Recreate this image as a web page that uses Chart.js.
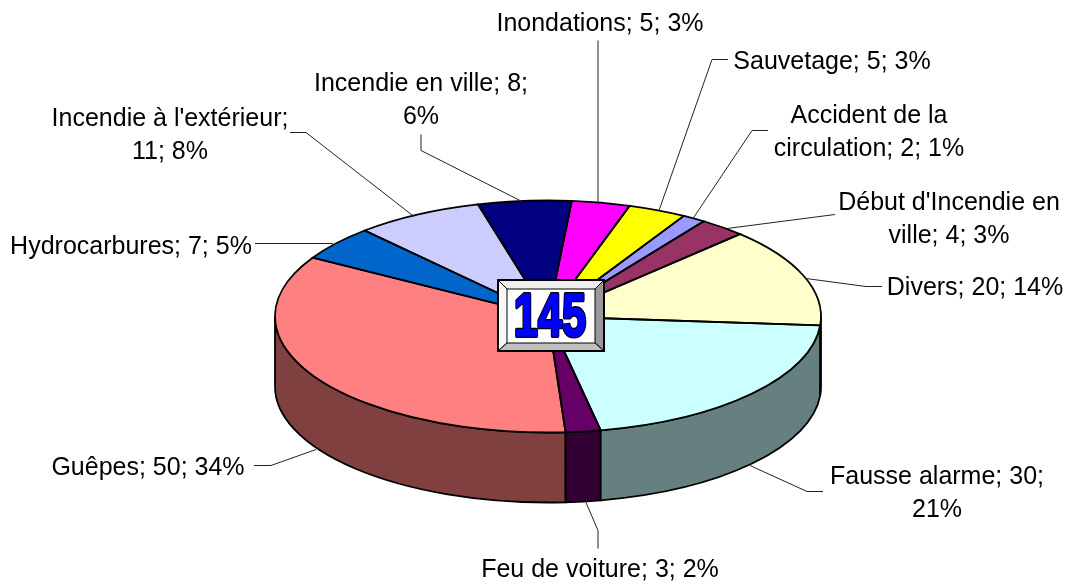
<!DOCTYPE html>
<html>
<head>
<meta charset="utf-8">
<title>145</title>
<script src="https://cdn.jsdelivr.net/npm/chart.js@4"></script>
<style>
  html, body { margin: 0; padding: 0; background: #fff; }
  canvas { display: block; }
</style>
</head>
<body>
<canvas id="myChart" width="1072" height="585"></canvas>
<script>
const categories = ['Inondations', 'Sauvetage', 'Accident de la circulation', "Début d'Incendie en ville", 'Divers', 'Fausse alarme', 'Feu de voiture', 'Guêpes', 'Hydrocarbures', "Incendie à l'extérieur", 'Incendie en ville'];
const values = [5, 5, 2, 4, 20, 30, 3, 50, 7, 11, 8];
const total = '145';
const topColors = ['#FF00FF', '#FFFF00', '#9999FF', '#993366', '#FFFFCC', '#CCFFFF', '#660066', '#FF8080', '#0066CC', '#CCCCFF', '#000080'];
const sideColors = ['#800080', '#808000', '#4D4D80', '#4D1A33', '#808066', '#668080', '#330033', '#804040', '#003366', '#666680', '#000040'];

// label text as broken over lines in the picture
const labelLines = [
    ['Inondations; 5; 3%'],
    ['Sauvetage; 5; 3%'],
    ['Accident de la', 'circulation; 2; 1%'],
    ["Début d'Incendie en", 'ville; 4; 3%'],
    ['Divers; 20; 14%'],
    ['Fausse alarme; 30;', '21%'],
    ['Feu de voiture; 3; 2%'],
    ['Guêpes; 50; 34%'],
    ['Hydrocarbures; 7; 5%'],
    ["Incendie à l'extérieur;", '11; 8%'],
    ['Incendie en ville; 8;', '6%']
];
// centre x and first baseline of each label
const labelAnchors = [[600, 31], [832, 69], [869, 123], [949, 210], [975, 295], [937, 484], [600, 577], [148, 475], [131, 254], [170, 126], [421, 91]];
const leaders = [
    [[598, 40], [598, 203]],
    [[728, 59], [712, 59], [659, 210]],
    [[768, 130], [752, 130], [693, 218]],
    [[835, 214], [727, 228]],
    [[882, 286], [866, 286], [806, 278]],
    [[823, 491], [807, 491], [750, 465]],
    [[598, 548], [598, 530], [586, 502]],
    [[254, 465], [271, 465], [316, 449]],
    [[255, 243], [333, 243]],
    [[290, 132], [306, 132], [414, 216]],
    [[421, 134], [421, 150], [522, 201]]
];

const pieCy = 316.5;
const pieRy = 116;
const depth = 70;

function sideRange(arc) {
    // part of the slice that faces the viewer (canvas angles 0..PI)
    const twoPi = Math.PI * 2;
    let a1 = arc.startAngle, a2 = arc.endAngle;
    while (a1 < 0) { a1 += twoPi; a2 += twoPi; }
    while (a1 >= twoPi) { a1 -= twoPi; a2 -= twoPi; }
    if (a1 <= Math.PI && a2 >= 0) {
        return [a1, Math.min(a2, Math.PI)];
    }
    if (a2 > twoPi) {
        return [twoPi, Math.min(a2, twoPi + Math.PI)];
    }
    return null;
}

const pie3d = {
    id: 'pie3d',
    beforeDatasetsDraw(chart) {
        const ctx = chart.ctx;
        const arcs = chart.getDatasetMeta(0).data;
        // reversed so the thin Divers sliver on the right edge stays on top
        for (let i = arcs.length - 1; i >= 0; i--) {
            const arc = arcs[i];
            const range = sideRange(arc);
            if (!range) continue;
            const rx = arc.outerRadius;
            ctx.beginPath();
            ctx.ellipse(arc.x, pieCy, rx, pieRy, 0, range[0], range[1]);
            ctx.ellipse(arc.x, pieCy + depth, rx, pieRy, 0, range[1], range[0], true);
            ctx.closePath();
            ctx.fillStyle = sideColors[i];
            ctx.fill();
            ctx.strokeStyle = '#000';
            ctx.lineWidth = 1.8;
            ctx.stroke();
        }
        const first = arcs[0];
        ctx.save();
        ctx.translate(first.x, pieCy);
        ctx.scale(1, pieRy / first.outerRadius);
        ctx.translate(-first.x, -first.y);
    },
    afterDatasetsDraw(chart) {
        const ctx = chart.ctx;
        ctx.restore();
        chart.getDatasetMeta(0).data.forEach(function (arc) {
            ctx.beginPath();
            ctx.moveTo(arc.x, pieCy);
            ctx.ellipse(arc.x, pieCy, arc.outerRadius, pieRy, 0, arc.startAngle, arc.endAngle);
            ctx.closePath();
            ctx.strokeStyle = '#000';
            ctx.lineWidth = 1.8;
            ctx.stroke();
        });
        drawLeaders(ctx);
        drawLabels(ctx);
        drawTotalBox(ctx);
    }
};

function drawLeaders(ctx) {
    ctx.strokeStyle = '#222';
    ctx.lineWidth = 1;
    leaders.forEach(function (pts) {
        ctx.beginPath();
        pts.forEach(function (p, i) {
            if (i === 0) ctx.moveTo(p[0], p[1] + 0.5);
            else ctx.lineTo(p[0], p[1] + 0.5);
        });
        ctx.stroke();
    });
}

function drawLabels(ctx) {
    ctx.font = '25px "Liberation Sans", Arial, sans-serif';
    ctx.fillStyle = '#000';
    ctx.textAlign = 'center';
    ctx.textBaseline = 'alphabetic';
    labelLines.forEach(function (lines, i) {
        lines.forEach(function (line, j) {
            ctx.fillText(line, labelAnchors[i][0], labelAnchors[i][1] + j * 33);
        });
    });
}

function drawTotalBox(ctx) {
    const x0 = 498, y0 = 280, x1 = 604, y1 = 351;
    const ix0 = 507, iy0 = 289, ix1 = 595, iy1 = 343;
    function face(color, pts) {
        ctx.beginPath();
        pts.forEach(function (p, i) {
            if (i === 0) ctx.moveTo(p[0], p[1]);
            else ctx.lineTo(p[0], p[1]);
        });
        ctx.closePath();
        ctx.fillStyle = color;
        ctx.fill();
        ctx.strokeStyle = '#000';
        ctx.lineWidth = 1;
        ctx.stroke();
    }
    face('#ffffff', [[x0, y0], [x1, y0], [x1, y1], [x0, y1]]);
    face('#eeeeee', [[x0, y0], [x1, y0], [ix1, iy0], [ix0, iy0]]);
    face('#f8f8f8', [[x0, y0], [ix0, iy0], [ix0, iy1], [x0, y1]]);
    face('#999999', [[x1, y0], [x1, y1], [ix1, iy1], [ix1, iy0]]);
    face('#c0c0c0', [[x0, y1], [ix0, iy1], [ix1, iy1], [x1, y1]]);
    ctx.strokeStyle = '#000';
    ctx.lineWidth = 2;
    ctx.strokeRect(x0, y0, x1 - x0, y1 - y0);

    ctx.save();
    ctx.translate(550, 336);
    ctx.scale(0.7, 1);
    ctx.font = 'bold 62px "Liberation Sans", Arial, sans-serif';
    ctx.textAlign = 'center';
    ctx.textBaseline = 'alphabetic';
    ctx.lineJoin = 'round';
    ctx.strokeStyle = '#000';
    ctx.lineWidth = 4;
    ctx.strokeText(total, 0, 0);
    ctx.strokeStyle = '#0000FF';
    ctx.lineWidth = 1.6;
    ctx.strokeText(total, 0, 0);
    ctx.fillStyle = '#0000FF';
    ctx.fillText(total, 0, 0);
    ctx.restore();
}

const ctx = document.getElementById('myChart').getContext('2d');
const myChart = new Chart(ctx, {
    type: 'pie',
    data: {
        labels: categories,
        datasets: [{
            data: values,
            backgroundColor: topColors,
            borderWidth: 0
        }]
    },
    options: {
        responsive: false,
        animation: false,
        rotation: 5,
        layout: {
            padding: { left: 275, right: 251, top: 20, bottom: 19 }
        },
        plugins: {
            legend: { display: false },
            tooltip: { enabled: false }
        }
    },
    plugins: [pie3d]
});
</script>
</body>
</html>
